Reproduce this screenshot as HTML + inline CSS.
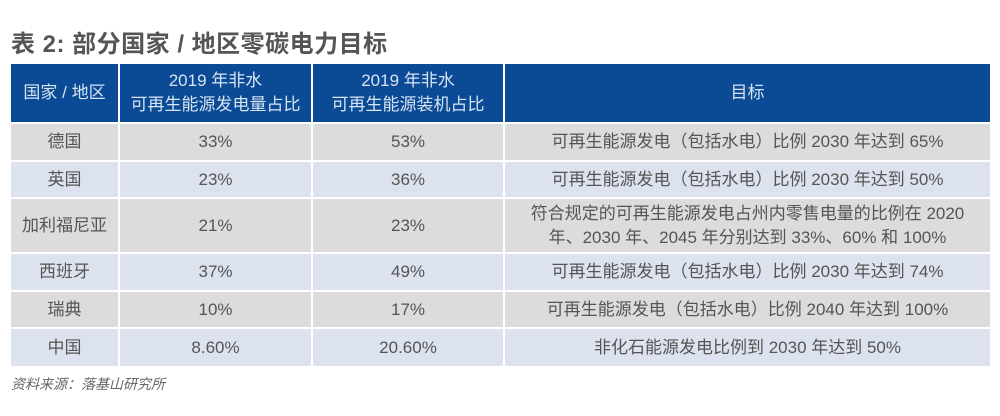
<!DOCTYPE html>
<html><head><meta charset="utf-8">
<style>
body{margin:0;width:1000px;height:416px;background:#fff;position:relative;overflow:hidden;font-family:"Liberation Sans","Noto Sans CJK SC",sans-serif;}
.t{position:absolute;left:11px;top:24px;font-size:24px;font-weight:bold;color:#555;letter-spacing:0.5px}
.c{position:absolute;display:flex;align-items:center;justify-content:center;text-align:center;font-size:17px;color:#555;line-height:24px}
.h{background:#0b4a94;color:#d6e4f4}
.g{background:#dcdcdc}
.b{background:#dce3ee}
.s{position:absolute;left:11px;top:374px;font-size:14px;color:#666;font-style:italic}
</style></head><body>
<div class="t">表 2: 部分国家 / 地区零碳电力目标</div>
<div id="tbl"></div>
<div class="s">资料来源：落基山研究所</div>
<script>
const headers=["国家 / 地区","2019 年非水<br>可再生能源发电量占比","2019 年非水<br>可再生能源装机占比","目标"];
const regions=["德国","英国","加利福尼亚","西班牙","瑞典","中国"];
const genShare=["33%","23%","21%","37%","10%","8.60%"];
const capShare=["53%","36%","23%","49%","17%","20.60%"];
const targets=["可再生能源发电（包括水电）比例 2030 年达到 65%","可再生能源发电（包括水电）比例 2030 年达到 50%","符合规定的可再生能源发电占州内零售电量的比例在 2020<br>年、2030 年、2045 年分别达到 33%、60% 和 100%","可再生能源发电（包括水电）比例 2030 年达到 74%","可再生能源发电（包括水电）比例 2040 年达到 100%","非化石能源发电比例到 2030 年达到 50%"];
const colX=[11,120,313,505,990];
const rowY=[[64,122],[124,160],[162,197],[199,252],[254,290],[292,327],[329,366]];
const tbl=document.getElementById('tbl');
function cell(txt,r,c,cls){
  const d=document.createElement('div');
  d.className='c '+cls;
  d.style.left=colX[c]+'px';
  d.style.width=(colX[c+1]-colX[c]-(c<3?2:0))+'px';
  d.style.top=rowY[r][0]+'px';
  d.style.height=(rowY[r][1]-rowY[r][0])+'px';
  d.innerHTML=txt;
  
  
  tbl.appendChild(d);
}
headers.forEach((h,i)=>cell(h,0,i,'h'));
regions.forEach((reg,i)=>{
  const cls=i%2===0?'g':'b';
  cell(reg,i+1,0,cls);cell(genShare[i],i+1,1,cls);cell(capShare[i],i+1,2,cls);cell(targets[i],i+1,3,cls);
});
</script>
</body></html>
